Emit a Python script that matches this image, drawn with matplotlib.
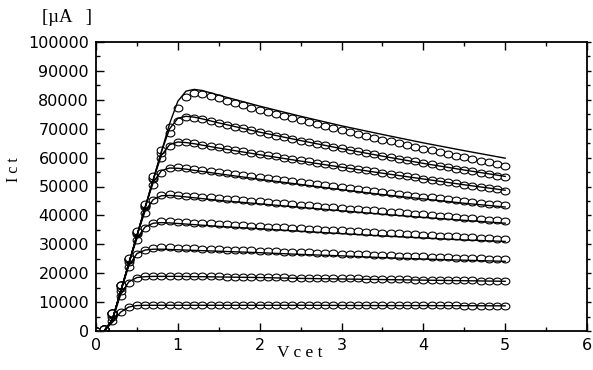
import numpy as np
import matplotlib
matplotlib.use("Agg")
import matplotlib.pyplot as plt
from matplotlib.path import Path
from matplotlib.ticker import MultipleLocator

# ---------------- data ----------------
# measured points: Vcet from 0.0 to 5.0 in 0.1 V steps
v_meas = [round(0.1 * i, 1) for i in range(51)]

c1 = [0, 800, 3500, 6500, 8200, 8900, 9100, 9100, 9100, 9100,
      9100, 9100, 9100, 9100, 9100, 9100, 9100, 9100, 9100, 9100,
      9100, 9000, 9000, 9000, 9000, 9000, 9000, 9000, 9000, 9000,
      9000, 9000, 9000, 8900, 8900, 8900, 8900, 8900, 8900, 8900,
      8900, 8900, 8900, 8900, 8900, 8800, 8800, 8800, 8800, 8800,
      8800]
c2 = [0, 800, 5000, 12000, 16500, 18300, 18900, 19100, 19100, 19100,
      19000, 19000, 19000, 18900, 18900, 18900, 18800, 18800, 18800, 18700,
      18700, 18600, 18600, 18600, 18500, 18500, 18400, 18400, 18300, 18300,
      18300, 18200, 18200, 18100, 18100, 18000, 18000, 17900, 17900, 17800,
      17800, 17700, 17700, 17600, 17600, 17500, 17500, 17400, 17400, 17300,
      17300]
c3 = [0, 800, 5500, 14000, 22000, 26500, 28200, 28700, 28900, 28900,
      28800, 28700, 28600, 28500, 28400, 28300, 28200, 28100, 28000, 27900,
      27800, 27700, 27600, 27500, 27400, 27300, 27200, 27100, 27000, 26900,
      26800, 26700, 26600, 26500, 26400, 26300, 26200, 26100, 26000, 25900,
      25800, 25700, 25600, 25500, 25400, 25300, 25200, 25100, 25000, 24900,
      24800]
c4 = [0, 800, 6000, 15000, 24000, 31500, 35800, 37500, 38000, 38000,
      37800, 37650, 37500, 37350, 37200, 37050, 36900, 36750, 36600, 36450,
      36300, 36150, 36000, 35850, 35700, 35550, 35400, 35250, 35100, 34950,
      34800, 34650, 34500, 34350, 34200, 34050, 33900, 33750, 33600, 33450,
      33300, 33150, 33000, 32850, 32700, 32550, 32400, 32250, 32100, 31950,
      31800]
c5 = [0, 800, 6200, 15500, 24500, 33500, 41000, 45300, 47000, 47300,
      47100, 46870, 46650, 46420, 46200, 45970, 45750, 45520, 45300, 45070,
      44850, 44620, 44400, 44170, 43950, 43720, 43500, 43270, 43050, 42820,
      42600, 42370, 42150, 41920, 41700, 41470, 41250, 41020, 40800, 40570,
      40350, 40120, 39900, 39670, 39450, 39220, 39000, 38770, 38550, 38320,
      38000]
c6 = [0, 800, 6300, 15800, 25000, 34000, 43000, 50500, 54800, 56500,
      56700, 56400, 56050, 55700, 55350, 55000, 54650, 54300, 53950, 53600,
      53250, 52900, 52550, 52200, 51850, 51500, 51150, 50800, 50450, 50100,
      49750, 49400, 49050, 48700, 48350, 48000, 47700, 47400, 47100, 46800,
      46500, 46200, 45900, 45600, 45300, 45000, 44700, 44400, 44100, 43850,
      43600]
c7 = [0, 800, 6300, 15800, 25000, 34200, 43300, 52500, 60000, 64000,
      65400, 65300, 64900, 64450, 64000, 63550, 63100, 62650, 62200, 61750,
      61300, 60850, 60400, 59950, 59500, 59080, 58660, 58240, 57820, 57400,
      56900, 56480, 56060, 55640, 55220, 54800, 54380, 53960, 53540, 53120,
      52700, 52290, 51880, 51470, 51060, 50650, 50240, 49830, 49420, 49010,
      48600]
c8 = [0, 800, 6300, 15800, 25000, 34200, 43500, 53000, 61500, 68500,
      72500, 74000, 73800, 73300, 72700, 72050, 71400, 70750, 70100, 69450,
      68800, 68200, 67600, 67000, 66450, 65900, 65350, 64800, 64280, 63760,
      63240, 62720, 62200, 61690, 61180, 60670, 60160, 59660, 59160, 58660,
      58160, 57670, 57180, 56690, 56200, 55720, 55240, 54760, 54280, 53800,
      53300]
c9 = [0, 800, 6300, 15800, 25200, 34500, 44000, 53500, 62800, 70500,
      77200, 81000, 82300, 82000, 81300, 80500, 79700, 78900, 78100, 77300,
      76500, 75800, 75100, 74400, 73700, 73000, 72300, 71600, 70900, 70200,
      69500, 68850, 68200, 67550, 66900, 66250, 65600, 64980, 64360, 63740,
      63120, 62520, 61920, 61320, 60720, 60120, 59540, 58960, 58380, 57800,
      57200]
measured = [c1, c2, c3, c4, c5, c6, c7, c8, c9]

# model (fit) curves
v_fit = [0.1, 0.2, 0.3, 0.4, 0.5, 0.6, 0.7, 0.8, 0.9, 1.0, 1.1, 1.2, 1.3,
         1.5, 2.0, 2.5, 3.0, 3.5, 4.0, 4.5, 5.0]
f1 = [0, 3000, 6500, 8300, 8800, 8900, 8900, 8900, 8900, 8900, 8900, 8900, 8900,
      8900, 8900, 8900, 8850, 8800, 8800, 8750, 8700]
f2 = [0, 3800, 12500, 17000, 18500, 18800, 18900, 18900, 18900, 18900, 18850, 18800, 18800,
      18700, 18500, 18200, 18000, 17800, 17600, 17400, 17200]
f3 = [0, 3900, 13500, 22500, 26800, 28000, 28300, 28300, 28200, 28100, 28000, 27900, 27800,
      27600, 27100, 26500, 26000, 25400, 24900, 24500, 24100]
f4 = [0, 3900, 13600, 23300, 32000, 36000, 37300, 37500, 37400, 37200, 37000, 36800, 36600,
      36200, 35400, 34500, 33700, 32900, 32200, 31500, 31000]
f5 = [0, 3900, 13600, 23300, 33000, 41500, 45500, 46800, 46900, 46700, 46400, 46100, 45800,
      45200, 44000, 42800, 41600, 40400, 39300, 38300, 37300]
f6 = [0, 3900, 13600, 23300, 33000, 42700, 51500, 55500, 56400, 56300, 56000, 55600, 55200,
      54400, 52500, 50700, 48900, 47200, 45700, 44200, 42900]
f7 = [0, 3900, 13600, 23300, 33000, 42700, 52400, 60800, 64500, 65400, 65200, 64800, 64300,
      63300, 61000, 58800, 56700, 54600, 52600, 50600, 48700]
f8 = [0, 3900, 13600, 23300, 33000, 42700, 52400, 62100, 70000, 73600, 74300, 74000, 73400,
      72000, 68800, 65900, 63100, 60500, 58000, 55700, 53500]
f9 = [0, 3900, 13600, 23300, 33000, 42700, 52400, 62100, 71800, 79500, 83000, 83600, 83200,
      81600, 77800, 74300, 71000, 68000, 65100, 62400, 59800]
fitted = [f1, f2, f3, f4, f5, f6, f7, f8, f9]

x_ticks = [0, 1, 2, 3, 4, 5, 6]
y_ticks = list(range(0, 100001, 10000))

# ---------------- figure ----------------
fig = plt.figure(figsize=(5.93, 3.70), dpi=100)
ax = fig.add_axes([96 / 593, 1 - 331 / 370, (587 - 96) / 593, (331 - 42) / 370])

# slightly flattened open-circle marker
t = np.linspace(0, 2 * np.pi, 41)
ell = Path(np.column_stack([np.cos(t), 0.78 * np.sin(t)]), closed=True)

for ys in fitted:
    ax.plot(v_fit, ys, color="black", lw=1.0, zorder=3)
for ys in measured:
    ax.plot(v_meas, ys, linestyle="none", marker=ell, markersize=6.3,
            markerfacecolor="white", markeredgecolor="black",
            markeredgewidth=0.8, zorder=2)

ax.set_xlim(0, 6)
ax.set_ylim(0, 100000)
ax.set_xticks(x_ticks)
ax.set_yticks(y_ticks)
ax.xaxis.set_minor_locator(MultipleLocator(0.5))
ax.yaxis.set_minor_locator(MultipleLocator(5000))
ax.set_xticklabels([str(v) for v in x_ticks], fontsize=11.5, family="DejaVu Sans")
ax.set_yticklabels([str(v) for v in y_ticks], fontsize=11.5, family="DejaVu Sans")

ax.tick_params(which="both", direction="in", top=True, right=False, width=1.0)
ax.tick_params(which="major", length=6, pad=5)
ax.tick_params(which="minor", length=3)
for s in ax.spines.values():
    s.set_linewidth(1.3)

# outward ticks on the right spine
ax2 = ax.twinx()
ax2.set_ylim(0, 100000)
ax2.set_yticks(y_ticks)
ax2.yaxis.set_minor_locator(MultipleLocator(5000))
ax2.tick_params(which="both", direction="out", labelright=False, width=1.0)
ax2.tick_params(which="major", length=3)
ax2.tick_params(which="minor", length=2)
for s in ax2.spines.values():
    s.set_visible(False)

fig.text(14 / 593, 1 - 170 / 370, "I c t", rotation=90, ha="center", va="center",
         fontsize=11.5, family="Liberation Serif")
fig.text(300 / 593, 1 - 353 / 370, "V c e t", ha="center", va="center",
         fontsize=12.5, family="Liberation Serif")
fig.text(42 / 593, 1 - 17 / 370, "[\u00b5A   ]", ha="left", va="center",
         fontsize=13.5, family="Liberation Serif")

fig.savefig("out.png", dpi=100)
